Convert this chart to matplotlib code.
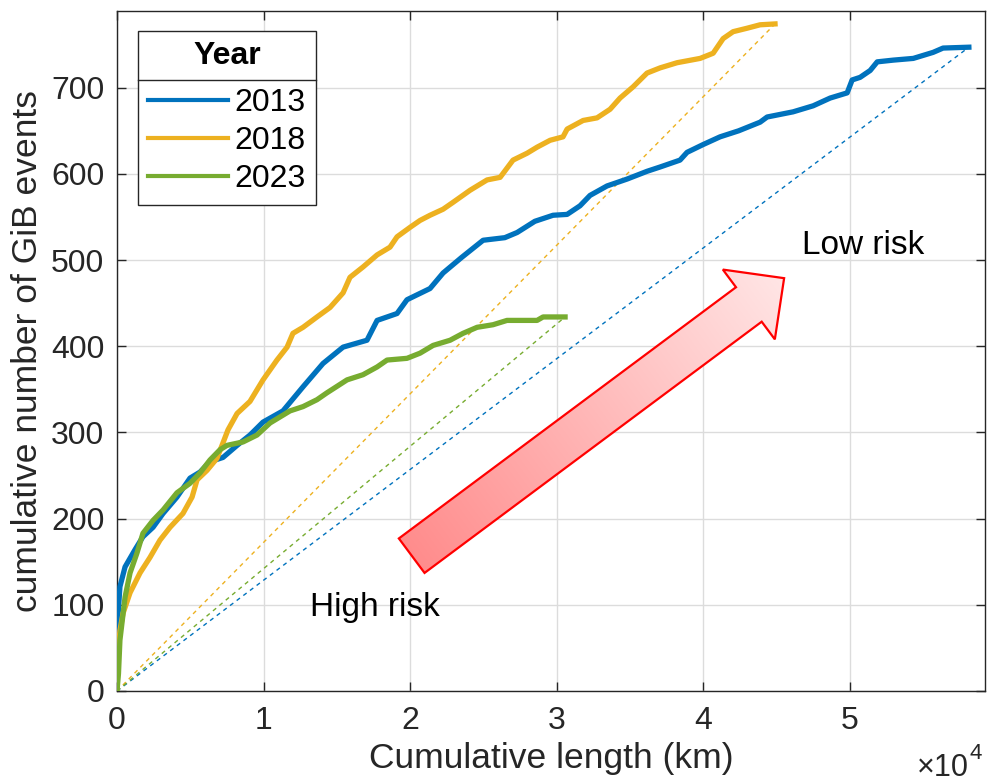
import numpy as np
import matplotlib
matplotlib.use('Agg')
import matplotlib.pyplot as plt
from matplotlib.patches import Polygon
from matplotlib.lines import Line2D

plt.rcParams['font.family'] = ['Liberation Sans', 'DejaVu Sans']

# cumulative length (km) / cumulative number of GiB events
x_2013 = [0, 30, 80, 200, 550, 1230, 1770, 2460, 3140, 4090, 4980, 5660, 6340,
          7230, 8190, 9070, 9960, 11320, 12690, 14050, 15420, 17050, 17740,
          19100, 19780, 21350, 22240, 23500, 24970, 26450, 27290, 28500, 29740,
          30700, 31580, 32260, 33420, 34790, 36150, 37040, 38400, 38880, 39970,
          41130, 42400, 43860, 44340, 46110, 47480, 48640, 49800, 50140, 50680,
          51370, 51850, 52940, 54310, 55660, 56340, 58100]
y_2013 = [0, 40, 90, 121, 144, 164, 179, 190, 206, 225, 247, 254, 266,
          271, 285, 297, 312, 325, 353, 380, 399, 407, 430,
          438, 454, 467, 485, 503, 523, 526, 532, 545, 552,
          553, 563, 575, 586, 594, 603, 608, 616, 625, 634,
          643, 650, 660, 666, 672, 679, 688, 694, 709, 712,
          720, 730, 732, 734, 741, 746, 747]

x_2018 = [0, 50, 200, 410, 890, 1570, 2250, 2930, 3620, 4500, 5120, 5460, 6140,
          6820, 7230, 7570, 8190, 9070, 9960, 10910, 11600, 12000, 12690, 13640,
          14530, 15420, 15890, 16780, 17740, 18620, 19100, 19990, 20670, 21350,
          22240, 22920, 24080, 25240, 26130, 27010, 27970, 28650, 29540, 30420,
          30700, 31790, 32740, 33630, 34310, 35200, 36150, 37040, 38200, 39770,
          40660, 41340, 42020, 42970, 43860, 44880]
y_2018 = [0, 40, 70, 90, 114, 137, 155, 175, 190, 206, 225, 245, 256,
          270, 288, 303, 322, 336, 361, 384, 399, 415, 422, 434,
          445, 462, 480, 492, 506, 515, 527, 538, 546, 552,
          559, 567, 581, 593, 596, 616, 624, 631, 639, 643,
          652, 662, 665, 675, 688, 701, 717, 723, 729, 734,
          740, 757, 765, 769, 773, 774]

x_2023 = [0, 100, 200, 550, 890, 1360, 1770, 2460, 3140, 4090, 4980, 5660, 6340,
          7030, 7500, 8600, 9550, 10440, 11800, 12690, 13640, 14320, 15690,
          16780, 17740, 18420, 19780, 20670, 21560, 22720, 23600, 24560, 25650,
          26600, 28650, 29060, 30560]
y_2023 = [0, 20, 59, 109, 137, 160, 183, 198, 210, 230, 241, 253, 268,
          280, 285, 289, 297, 311, 325, 330, 338, 346, 361,
          367, 376, 384, 386, 392, 401, 407, 415, 422, 425,
          430, 430, 434, 434]

years = ['2013', '2018', '2023']
colors = ['#0072BD', '#EDB120', '#77AC30']
xticks = [0, 10000, 20000, 30000, 40000, 50000]
xticklabels = ['0', '1', '2', '3', '4', '5']
yticks = [0, 100, 200, 300, 400, 500, 600, 700]

W, H = 989, 783
fig = plt.figure(figsize=(W / 100, H / 100), dpi=100)
ax = fig.add_axes([117 / W, 1 - 691 / H, (985 - 117) / W, (691 - 11) / H])
ax.set_xlim(0, 59200)
ax.set_ylim(0, 789)

curves = [(x_2013, y_2013), (x_2018, y_2018), (x_2023, y_2023)]
handles = []
for (xs, ys), c, yr in zip(curves, colors, years):
    h, = ax.plot(xs, ys, color=c, lw=3.8, label=yr, zorder=4,
                 solid_joinstyle='round')
    handles.append(h)
for (xs, ys), c in zip(curves, colors):
    ax.plot([0, xs[-1]], [0, ys[-1]], color=c, lw=1.0, ls=(0, (3, 3)),
            zorder=3)

ax.set_xticks(xticks)
ax.set_xticklabels(xticklabels)
ax.set_yticks(yticks)
ax.grid(True, color='#dcdcdc', lw=1.0, zorder=0)
ax.set_axisbelow(True)
ax.tick_params(direction='in', length=6.5, width=1.0, top=True, right=True,
               labelsize=23, colors='#262626', pad=11)
ax.tick_params(axis='y', pad=9)
for sp in ax.spines.values():
    sp.set_color('#262626')
    sp.set_linewidth(1.0)

ax.set_xlabel('Cumulative length (km)', fontsize=25.5, color='#262626',
              labelpad=4)
ax.set_ylabel('cumulative number of GiB events', fontsize=25.5,
              color='#262626', labelpad=5)

# big red gradient arrow
tail = ax.transData.transform((20100, 157))
tip = ax.transData.transform((45500, 479))
u = (tip - tail) / np.hypot(*(tip - tail))
n = np.array([-u[1], u[0]])
shaft_w, head_w, head_l = 21.5, 43.5, 44.0
base = tip - u * head_l
verts_px = np.array([tail + n * shaft_w, base + n * shaft_w,
                     base + n * head_w, tip, base - n * head_w,
                     base - n * shaft_w, tail - n * shaft_w])
verts = ax.transData.inverted().transform(verts_px)
arrow = Polygon(verts, closed=True, facecolor='none', edgecolor='#FF0000',
                lw=1.6, zorder=6)
ax.add_patch(arrow)

x0, y0 = verts.min(axis=0)
x1, y1 = verts.max(axis=0)
gx = np.linspace(x0, x1, 300)
gy = np.linspace(y0, y1, 300)
GX, GY = np.meshgrid(gx, gy)
P = ax.transData.transform(np.column_stack([GX.ravel(), GY.ravel()]))
t = ((P - tail) @ u) / np.hypot(*(tip - tail))
t = np.clip(t, 0, 1).reshape(GX.shape)
c0 = np.array([1.0, 0.55, 0.55])
c1 = np.array([1.0, 0.90, 0.90])
img = c0[None, None, :] + t[:, :, None] * (c1 - c0)[None, None, :]
im = ax.imshow(img, extent=[x0, x1, y0, y1], origin='lower', aspect='auto',
               zorder=5, interpolation='bilinear')
im.set_clip_path(arrow)
ax.set_xlim(0, 59200)
ax.set_ylim(0, 789)

ax.text(50900, 517, 'Low risk', fontsize=24, ha='center', va='center',
        zorder=7)
ax.text(17600, 97, 'High risk', fontsize=24, ha='center', va='center',
        zorder=7)

# x10^4 multiplier
fig.text(969 / W, 1 - 776 / H, '\u00d710', fontsize=22, ha='right',
         va='baseline', color='#262626')
fig.text(970 / W, 1 - 759 / H, '4', fontsize=16, ha='left',
         va='baseline', color='#262626')

leg = ax.legend(handles=handles, title='Year', loc='upper left',
                bbox_to_anchor=(138 / W, 1 - 31 / H),
                bbox_transform=fig.transFigure, borderaxespad=0,
                fontsize=23, title_fontproperties={'size': 23,
                                                   'weight': 'bold'},
                handlelength=2.5, handletextpad=0.2, labelspacing=0.26,
                borderpad=0.32, fancybox=False, framealpha=1,
                edgecolor='#262626')
leg._legend_box.sep = 12
leg.get_frame().set_linewidth(1.0)
leg.set_zorder(10)
for lh in leg.get_lines():
    lh.set_linewidth(3.0)

fig.canvas.draw()
fb = leg.get_frame().get_window_extent()
tb = leg.get_title().get_window_extent()
eb = leg.get_texts()[0].get_window_extent()
ysep = 0.5 * (tb.y0 + eb.y1)
sep = Line2D([fb.x0, fb.x1], [ysep, ysep], color='#262626', lw=1.0,
             transform=None, zorder=11)
fig.add_artist(sep)

fig.savefig('out.png', dpi=100, facecolor='white')
